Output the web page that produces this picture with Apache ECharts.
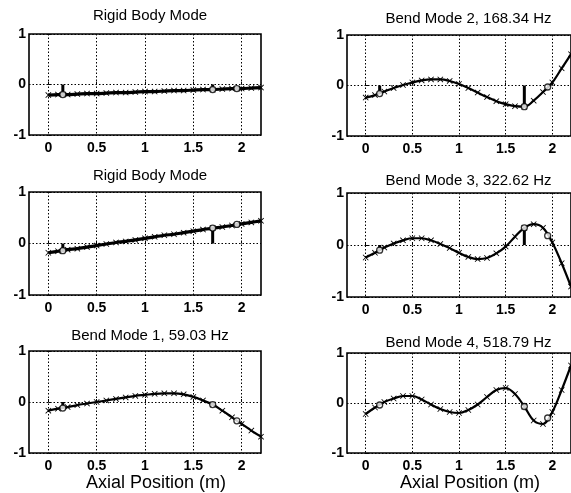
<!DOCTYPE html>
<html>
<head>
<meta charset="utf-8">
<script src="https://cdn.jsdelivr.net/npm/echarts@6/dist/echarts.min.js"></script>
<style>
html,body{margin:0;padding:0;background:#fff;}
#chart{width:571px;height:493px;}
</style>
</head>
<body>
<div id="chart"></div>
<script>
// ---- data ----
const stations = [0, 0.1, 0.2, 0.3, 0.4, 0.5, 0.6, 0.7, 0.8, 0.9, 1.0, 1.1, 1.2, 1.3, 1.4, 1.5, 1.6, 1.7, 1.8, 1.9, 2.0, 2.1, 2.2];
const rigidMode1 = [-0.21, -0.20, -0.20, -0.19, -0.18, -0.18, -0.17, -0.16, -0.16, -0.15, -0.14, -0.14, -0.13, -0.12, -0.12, -0.11, -0.10, -0.10, -0.09, -0.08, -0.08, -0.07, -0.06];
const rigidMode2 = [-0.18, -0.15, -0.12, -0.10, -0.07, -0.04, -0.01, 0.02, 0.04, 0.07, 0.10, 0.13, 0.16, 0.18, 0.21, 0.24, 0.27, 0.30, 0.32, 0.35, 0.38, 0.41, 0.44];
const bendMode1 = [-0.17, -0.13, -0.10, -0.06, -0.03, 0.00, 0.03, 0.06, 0.09, 0.12, 0.14, 0.16, 0.17, 0.17, 0.15, 0.10, 0.03, -0.05, -0.17, -0.30, -0.43, -0.56, -0.68];
const bendMode2 = [-0.24, -0.19, -0.12, -0.05, 0.01, 0.06, 0.10, 0.12, 0.12, 0.09, 0.03, -0.05, -0.14, -0.23, -0.31, -0.37, -0.41, -0.42, -0.30, -0.13, 0.06, 0.34, 0.62];
const bendMode3 = [-0.24, -0.15, -0.05, 0.03, 0.09, 0.13, 0.13, 0.09, 0.02, -0.06, -0.15, -0.23, -0.27, -0.25, -0.16, -0.03, 0.16, 0.33, 0.40, 0.33, 0.05, -0.35, -0.80];
const bendMode4 = [-0.22, -0.09, 0.02, 0.09, 0.14, 0.14, 0.07, -0.03, -0.12, -0.18, -0.20, -0.14, -0.03, 0.12, 0.26, 0.30, 0.18, -0.07, -0.35, -0.42, -0.18, 0.26, 0.75];

const sensorX = [0.15, 1.7, 1.95];
const rigidMode1Sensors = [-0.20, -0.10, -0.08];
const rigidMode2Sensors = [-0.14, 0.30, 0.37];
const bendMode1Sensors = [-0.12, -0.05, -0.37];
const bendMode2Sensors = [-0.16, -0.42, -0.03];
const bendMode3Sensors = [-0.10, 0.33, 0.18];
const bendMode4Sensors = [-0.04, -0.07, -0.30];

const stemX = [0.15, 1.7];
const rigidMode1Stems = [-0.20, -0.10];
const rigidMode2Stems = [-0.14, 0.30];
const bendMode1Stems = [-0.12, -0.05];
const bendMode2Stems = [-0.16, -0.42];
const bendMode3Stems = [-0.10, 0.33];
const bendMode4Stems = [-0.04, -0.07];

const titles = ['Rigid Body Mode', 'Bend Mode 2, 168.34 Hz', 'Rigid Body Mode', 'Bend Mode 3, 322.62 Hz', 'Bend Mode 1, 59.03 Hz', 'Bend Mode 4, 518.79 Hz'];
const xTickLabels = [0, 0.5, 1, 1.5, 2];
const yTickLabels = [-1, 0, 1];
const xAxisTitle = 'Axial Position (m)';

const panelCurves = [rigidMode1, bendMode2, rigidMode2, bendMode3, bendMode1, bendMode4];
const panelSensors = [rigidMode1Sensors, bendMode2Sensors, rigidMode2Sensors, bendMode3Sensors, bendMode1Sensors, bendMode4Sensors];
const panelStems = [rigidMode1Stems, bendMode2Stems, rigidMode2Stems, bendMode3Stems, bendMode1Stems, bendMode4Stems];

// ---- layout (pixels) ----
const layout = [
  {left: 29, top: 34, width: 232, height: 101, titleTop: 3},
  {left: 347, top: 35, width: 233, height: 101, titleTop: 6},
  {left: 29, top: 192, width: 232, height: 103, titleTop: 163},
  {left: 347, top: 193, width: 233, height: 104, titleTop: 168},
  {left: 29, top: 351, width: 232, height: 102, titleTop: 323},
  {left: 347, top: 353, width: 233, height: 103, titleTop: 330}
];
const lineWidths = [3.2, 2.2, 3.2, 2.2, 2.2, 2.2];

const FONT = 'Liberation Sans, Arial, Helvetica, sans-serif';
const crossSymbol = 'path://M0,1L1,0L5,4L9,0L10,1L6,5L10,9L9,10L5,6L1,10L0,9L4,5Z';

const grid = [], xAxis = [], yAxis = [], series = [], title = [];
layout.forEach((L, i) => {
  grid.push({left: L.left, top: L.top, width: L.width, height: L.height, show: true,
    borderColor: '#000', borderWidth: 1.6, backgroundColor: 'transparent', containLabel: false});
  title.push({text: titles[i], left: L.left + L.width / 2, top: L.titleTop, textAlign: 'center',
    textStyle: {fontFamily: FONT, fontSize: 15, fontWeight: 'normal', color: '#000'}});
  const bottomRow = i >= 4;
  xAxis.push({type: 'value', gridIndex: i, min: -0.2, max: 2.2,
    axisLine: {show: false},
    axisTick: {show: true, inside: true, length: 3, customValues: xTickLabels, lineStyle: {color: '#000'}},
    axisLabel: {customValues: xTickLabels, margin: 6, color: '#000', fontFamily: FONT, fontSize: 14,
      fontWeight: 'bold', formatter: v => String(v)},
    splitLine: {show: true, lineStyle: {type: [1.5, 2], color: '#000', width: 1}},
    name: bottomRow ? xAxisTitle : '', nameLocation: 'middle', nameGap: 21, nameMoveOverlap: false,
    nameTextStyle: {fontFamily: FONT, fontSize: 18, color: '#000', padding: [0, 0, 0, 22]}
  });
  yAxis.push({type: 'value', gridIndex: i, min: -1, max: 1, interval: 1,
    axisLine: {show: false},
    axisTick: {show: true, inside: true, length: 3, lineStyle: {color: '#000'}},
    axisLabel: {margin: 3, color: '#000', fontFamily: FONT, fontSize: 14, fontWeight: 'bold'},
    splitLine: {show: true, lineStyle: {type: [1.5, 2], color: '#000', width: 1}}
  });
  // mode shape curve with sensor crosses
  series.push({type: 'line', xAxisIndex: i, yAxisIndex: i, smooth: 0.35,
    data: stations.map((x, k) => [x, panelCurves[i][k]]),
    symbol: crossSymbol, symbolSize: 6, showSymbol: true,
    lineStyle: {color: '#000', width: lineWidths[i]}, itemStyle: {color: '#000'},
    silent: true, animation: false, z: 3});
  // stems
  stemX.forEach((sx, k) => {
    series.push({type: 'line', xAxisIndex: i, yAxisIndex: i,
      data: [[sx, 0], [sx, panelStems[i][k]]], symbol: 'none',
      lineStyle: {color: '#000', width: 3}, silent: true, animation: false, z: 4});
  });
  // open circles
  series.push({type: 'scatter', xAxisIndex: i, yAxisIndex: i,
    data: sensorX.map((x, k) => [x, panelSensors[i][k]]),
    symbol: 'circle', symbolSize: 6,
    itemStyle: {color: '#fff', borderColor: '#000', borderWidth: 1.3},
    silent: true, animation: false, z: 5});
});

const chart = echarts.init(document.getElementById('chart'), null, {renderer: 'canvas'});
chart.setOption({animation: false, backgroundColor: '#fff', title, grid, xAxis, yAxis, series});
</script>
</body>
</html>
